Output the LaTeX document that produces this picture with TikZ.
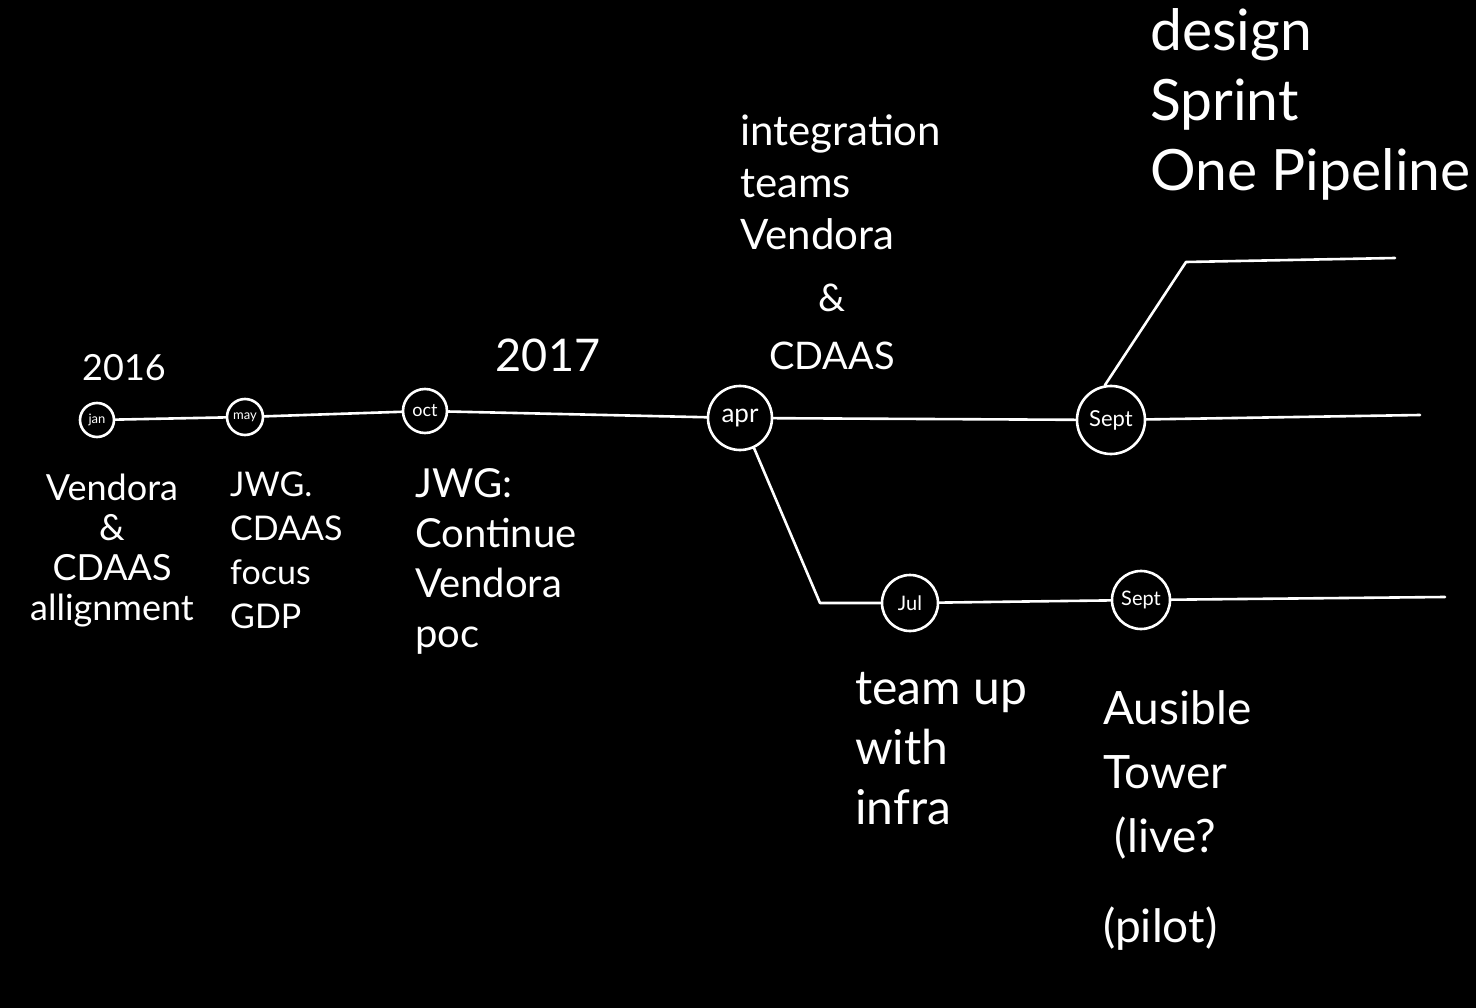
\documentclass[tikz,border=0pt]{standalone}
\usepackage{fontspec}
\setmainfont{Lato}
\begin{document}
\begin{tikzpicture}[x=1pt,y=-1pt,
  ln/.style={draw=white, line width=2.6pt, line cap=round, line join=round},
  ev/.style={circle, draw=white, line width=2.6pt, text=white, inner sep=0pt},
  hw/.style={text=white, inner sep=0pt, align=left, font=\fontsize{34}{42}\selectfont},
  hwc/.style={hw, align=center}]
\fill[black] (0,0) rectangle (1476,1008);
\useasboundingbox (0,0) rectangle (1476,1008);
% event circles
\node[ev, minimum size=34pt, font=\fontsize{13}{13}\selectfont] (jan) at (97,420) {jan};
\node[ev, minimum size=36pt, font=\fontsize{13}{13}\selectfont] (may) at (245,417) {may};
\node[ev, minimum size=44pt, font=\fontsize{18}{18}\selectfont] (oct) at (425,411) {oct};
\node[ev, minimum size=64pt, font=\fontsize{26}{26}\selectfont] (apr) at (740,418) {apr};
\node[ev, minimum size=68pt, font=\fontsize{22}{22}\selectfont] (sep1) at (1111,420) {Sept};
\node[ev, minimum size=56pt, font=\fontsize{20}{20}\selectfont] (jul) at (910,603) {Jul};
\node[ev, minimum size=58pt, font=\fontsize{20}{20}\selectfont] (sep2) at (1141,600) {Sept};
% free ends
\coordinate (mainend) at (1420,415);
\coordinate (upbend) at (1186,262);
\coordinate (upend) at (1395,258);
\coordinate (lowbend) at (820,603);
\coordinate (lowend) at (1445,597);
% connectors
\draw[ln] (jan) -- (may);
\draw[ln] (may) -- (oct);
\draw[ln] (oct) -- (apr);
\draw[ln] (apr) -- (sep1);
\draw[ln] (sep1) -- (mainend);
\draw[ln] (sep1.100) -- (upbend) -- (upend);
\draw[ln] (apr.-65) -- (lowbend) -- (jul);
\draw[ln] (jul) -- (sep2);
\draw[ln] (sep2) -- (lowend);
% year labels
\node[hw, font=\fontsize{36}{40}\selectfont] (y2016) at (124,368) {2016};
\node[hw, font=\fontsize{45}{48}\selectfont] (y2017) at (548,355) {2017};
% texts
\node[hwc, anchor=north, font=\fontsize{36}{40}\selectfont] (tjan) at (112,474) {Vendora\\\&\\CDAAS\\allignment};
\node[hw, anchor=north west, font=\fontsize{34}{44}\selectfont] (tmay) at (230,472) {JWG.\\CDAAS\\focus\\GDP};
\node[hw, anchor=north west, font=\fontsize{40}{50}\selectfont] (toct) at (415,468) {JWG:\\Continue\\Vendora\\poc};
\node[hw, anchor=north west, font=\fontsize{42}{52}\selectfont] (tint) at (740,115) {integration\\teams\\Vendora};
\node[hwc, anchor=north, font=\fontsize{38}{58}\selectfont] (tint2) at (832,284) {\&\\CDAAS};
\node[hw, anchor=north west, font=\fontsize{57}{70}\selectfont] (tdes) at (1150,8) {design\\Sprint\\One Pipeline};
\node[hw, anchor=north west, font=\fontsize{48}{60}\selectfont] (tteam) at (855,672) {team up\\with\\infra};
\node[hw, anchor=north west, font=\fontsize{46}{64}\selectfont] (tans) at (1103,690) {Ausible\\Tower\\\ (live?\\[26pt](pilot)};
\end{tikzpicture}
\end{document}
